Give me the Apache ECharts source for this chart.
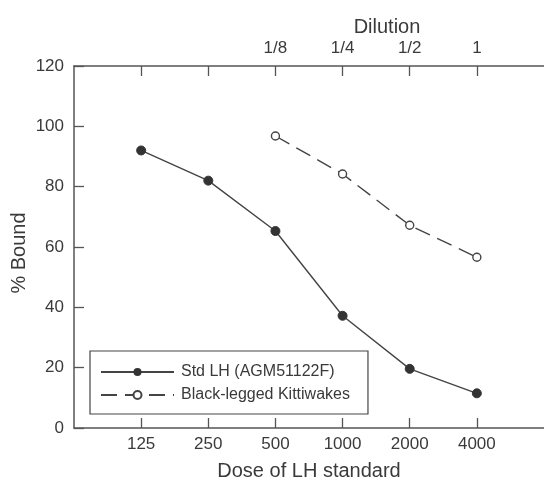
<!DOCTYPE html>
<html>
<head>
<meta charset="utf-8">
<script src="https://cdn.jsdelivr.net/npm/echarts@6/dist/echarts.min.js"></script>
<style>
  html, body { margin: 0; padding: 0; background: #fff; }
  #chart { width: 544px; height: 480px; }
</style>
</head>
<body>
<div id="chart"></div>
<script>
// dose of LH standard (x), log2 scale
var doses = [125, 250, 500, 1000, 2000, 4000];
var stdLH = [92, 82, 65.3, 37.2, 19.6, 11.5];
// kittiwake samples start at dose 500 (dilution 1/8)
var kittiDoses = [500, 1000, 2000, 4000];
var kittiwakes = [96.8, 84.2, 67.2, 56.6];
var dilutionLabels = ['1/8', '1/4', '1/2', '1'];
var yTicks = [0, 20, 40, 60, 80, 100, 120];

var ink = '#3a3a3a';
var axisInk = '#555';
var font = 'Liberation Sans, Arial, sans-serif';

var chart = echarts.init(document.getElementById('chart'));

var xBase = {
  type: 'log',
  logBase: 2,
  min: 62.5,
  max: 8000,
  axisLine: { show: true, lineStyle: { color: axisInk, width: 1.5 } },
  axisTick: { show: true, inside: true, length: 10, customValues: doses, lineStyle: { color: axisInk, width: 1.3 } },
  splitLine: { show: false }
};

chart.setOption({
  animation: false,
  title: {
    text: 'Dilution',
    left: 382,
    top: 12,
    textAlign: 'center',
    textStyle: { fontFamily: font, fontSize: 20, fontWeight: 'normal', color: ink }
  },
  grid: { left: 74, right: 0, top: 66, bottom: 52, outerBoundsMode: 'none' },
  legend: {
    orient: 'vertical',
    left: 90,
    top: 351,
    padding: [13, 18, 11, 10],
    itemGap: 7,
    itemWidth: 73,
    itemHeight: 10,
    borderColor: '#444',
    borderWidth: 1.2,
    borderRadius: 0,
    textStyle: { fontFamily: font, fontSize: 16, color: ink, padding: [0, 0, 0, 2] },
    data: ['Std LH (AGM51122F)', 'Black-legged Kittiwakes']
  },
  xAxis: [
    Object.assign({}, xBase, {
      position: 'bottom',
      name: 'Dose of LH standard',
      nameLocation: 'middle',
      nameGap: 33,
      nameMoveOverlap: false,
      nameTextStyle: { fontFamily: font, fontSize: 20, color: ink },
      axisLabel: { customValues: doses, margin: 8, fontFamily: font, fontSize: 17, color: ink,
        formatter: function (v) { return String(Math.round(v)); } }
    }),
    Object.assign({}, xBase, {
      position: 'top',
      axisLabel: { customValues: kittiDoses, margin: 9, fontFamily: font, fontSize: 17, color: ink,
        formatter: function (v) {
          var i = kittiDoses.indexOf(Math.round(v));
          return i >= 0 ? dilutionLabels[i] : '';
        } }
    })
  ],
  yAxis: {
    type: 'value',
    min: yTicks[0],
    max: yTicks[yTicks.length - 1],
    interval: 20,
    name: '% Bound',
    nameLocation: 'middle',
    nameGap: 45,
    nameMoveOverlap: false,
    nameTextStyle: { fontFamily: font, fontSize: 20, color: ink, padding: [0, 0, 0, -12] },
    axisLine: { show: true, lineStyle: { color: axisInk, width: 1.5 } },
    axisTick: { show: true, inside: true, length: 10, lineStyle: { color: axisInk, width: 1.3 } },
    axisLabel: { margin: 10, fontFamily: font, fontSize: 17, color: ink },
    splitLine: { show: false }
  },
  series: [
    {
      name: 'Std LH (AGM51122F)',
      type: 'line',
      xAxisIndex: 0,
      data: doses.map(function (d, i) { return [d, stdLH[i]]; }),
      symbol: 'circle',
      symbolSize: 9,
      itemStyle: { color: '#333', borderColor: '#333' },
      lineStyle: { color: '#444', width: 1.4 }
    },
    {
      name: 'Black-legged Kittiwakes',
      type: 'line',
      xAxisIndex: 0,
      data: kittiDoses.map(function (d, i) { return [d, kittiwakes[i]]; }),
      symbol: 'circle',
      symbolSize: 8,
      itemStyle: { color: '#fff', borderColor: '#444', borderWidth: 1.4 },
      lineStyle: { color: '#444', width: 1.4, type: [16, 8] }
    }
  ]
});
</script>
</body>
</html>
